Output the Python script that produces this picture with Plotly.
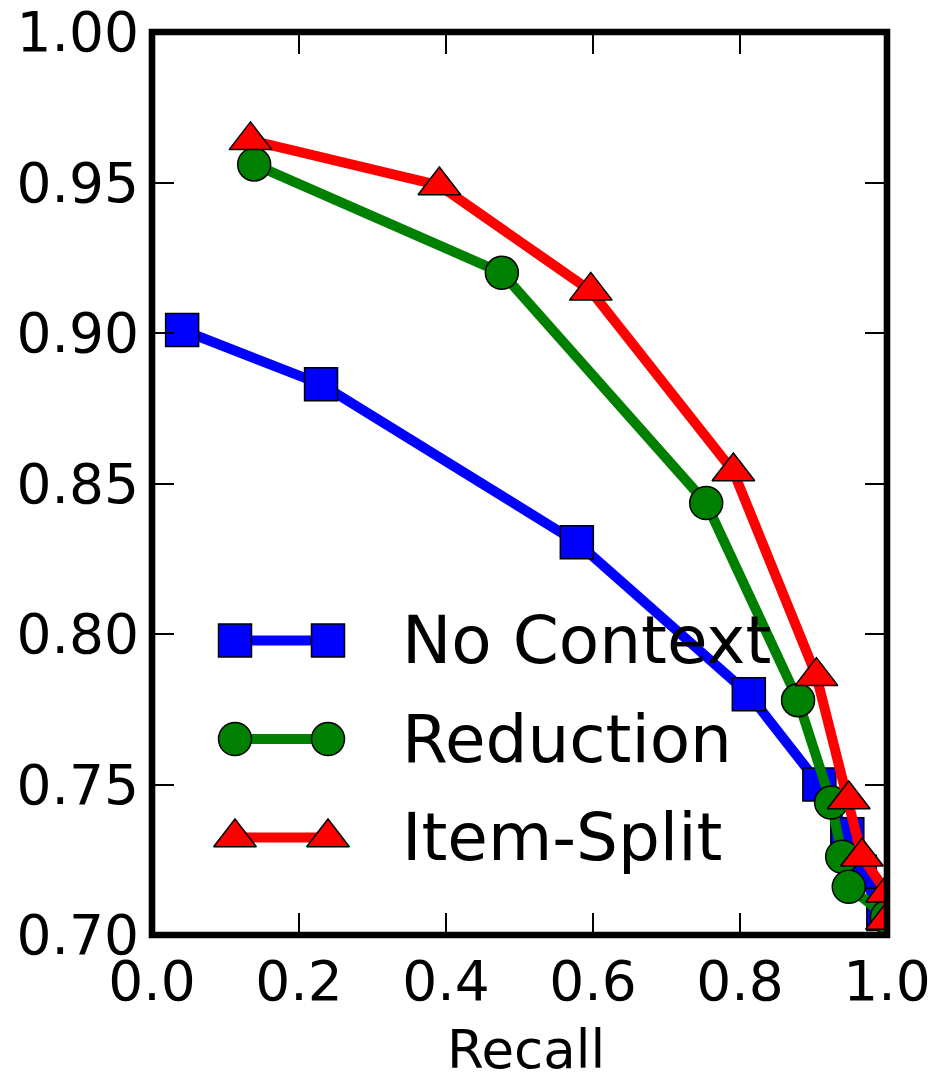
import plotly.graph_objects as go

# ---- data ----
recall_nc = [0.041, 0.230, 0.578, 0.812, 0.908, 0.946, 0.963, 0.995]
prec_nc = [0.901, 0.883, 0.8305, 0.780, 0.750, 0.7335, 0.721, 0.707]

recall_rd = [0.139, 0.476, 0.754, 0.879, 0.924, 0.939, 0.948, 1.0]
prec_rd = [0.956, 0.920, 0.8435, 0.778, 0.744, 0.726, 0.716, 0.706]

recall_is = [0.134, 0.391, 0.597, 0.791, 0.904, 0.948, 0.966, 1.0, 1.0]
prec_is = [0.964, 0.949, 0.914, 0.854, 0.786, 0.745, 0.726, 0.714, 0.705]

series_names = ["No Context", "Reduction", "Item-Split"]
x_ticks = [0.0, 0.2, 0.4, 0.6, 0.8, 1.0]
y_ticks = [0.70, 0.75, 0.80, 0.85, 0.90, 0.95, 1.00]
x_title = "Recall"

# ---- styles ----
FONT = "DejaVu Sans"
styles = [
    dict(color="#0000ff", symbol="square", size=33),
    dict(color="#008000", symbol="circle", size=33),
    dict(color="#ff0000", symbol="triangle-up", size=37),
]
LW = 10

fig = go.Figure()
data = [(recall_nc, prec_nc), (recall_rd, prec_rd), (recall_is, prec_is)]
for (xs, ys), st, name in zip(data, styles, series_names):
    fig.add_trace(go.Scatter(
        x=xs, y=ys, mode="lines+markers", name=name, showlegend=False,
        line=dict(color=st["color"], width=LW),
        marker=dict(symbol=st["symbol"], size=st["size"], color=st["color"],
                    line=dict(color="black", width=1.5)),
    ))

# figure size / margins (page has an 8px body margin, so the figure is 8px smaller)
W, H = 928, 1064
ML, MR, MT, MB = 144, 49, 24, 137
PLOT_H = H - MT - MB

# ---- hand-built legend (layout positions in figure pixel units on an overlay axis) ----
leg_x = [227, 320]
leg_rows = [632.5, 731, 829.5]
leg_text_x = 392
for st, name, yrow in zip(styles, series_names, leg_rows):
    fig.add_trace(go.Scatter(
        x=leg_x, y=[yrow, yrow], xaxis="x2", yaxis="y2", mode="lines+markers",
        showlegend=False, hoverinfo="skip",
        line=dict(color=st["color"], width=LW),
        marker=dict(symbol=st["symbol"], size=st["size"], color=st["color"],
                    line=dict(color="black", width=1.5)),
    ))
    fig.add_annotation(x=leg_text_x, y=yrow, xref="x2", yref="y2", text=name,
                       showarrow=False, xanchor="left", yanchor="middle",
                       font=dict(family=FONT, size=66, color="black"))

# x-axis title as an annotation (it sits partly beyond the bottom margin)
title_y_px = 1041
fig.add_annotation(x=518, xref="x2", y=(H - MB - title_y_px) / PLOT_H, yref="paper",
                   text=x_title, showarrow=False, xanchor="center", yanchor="middle",
                   font=dict(family=FONT, size=53, color="black"))

axis_common = dict(
    showgrid=False, zeroline=False, showline=False,
    ticks="inside", ticklen=22, tickwidth=1.5, tickcolor="black",
    mirror="allticks", ticklabeloverflow="allow",
    tickfont=dict(family=FONT, size=55, color="black"),
)

fig.update_layout(
    width=W, height=H,
    margin=dict(l=ML, r=MR, t=MT, b=MB, autoexpand=False),
    paper_bgcolor="white", plot_bgcolor="white",
    font=dict(family=FONT, color="black"),
    xaxis=dict(range=[0, 1], tickvals=x_ticks,
               ticktext=[f"{v:.1f}" for v in x_ticks],
               ticklabelstandoff=9,
               **axis_common),
    yaxis=dict(range=[0.70, 1.00], tickvals=y_ticks,
               ticktext=[f"{v:.2f}" for v in y_ticks],
               ticklabelstandoff=12,
               **axis_common),
    xaxis2=dict(overlaying="x", anchor="y2", range=[ML, W - MR], visible=False,
                fixedrange=True),
    yaxis2=dict(overlaying="y", anchor="x2", range=[H - MB, MT], visible=False,
                fixedrange=True),
    shapes=[dict(type="rect", xref="paper", yref="paper", x0=0, x1=1, y0=0, y1=1,
                 line=dict(color="black", width=6.6), layer="above")],
    showlegend=False,
)

fig.write_html("out.html")
